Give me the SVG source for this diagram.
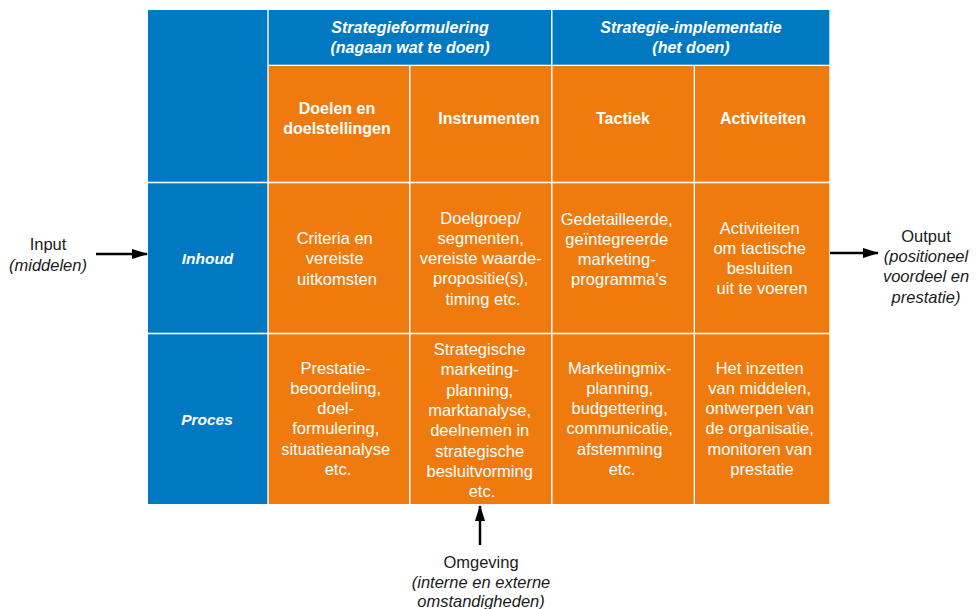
<svg xmlns="http://www.w3.org/2000/svg" width="978" height="609" viewBox="0 0 978 609">
  <style>
    .blue { fill: #0179c2; }
    .orange { fill: #ef7b0f; }
    .hdr { font-family: "Liberation Sans", Arial, sans-serif; font-size: 16px; font-weight: bold; font-style: italic; fill: #ffffff; text-anchor: middle; }
    .rowlbl { font-family: "Liberation Sans", Arial, sans-serif; font-size: 15.5px; font-weight: bold; font-style: italic; fill: #ffffff; text-anchor: middle; }
    .sub { font-family: "Liberation Sans", Arial, sans-serif; font-size: 16px; font-weight: bold; fill: #ffffff; text-anchor: middle; }
    .body { font-family: "Liberation Sans", Arial, sans-serif; font-size: 16.5px; fill: #ffffff; text-anchor: middle; }
    .ext { font-family: "Liberation Sans", Arial, sans-serif; font-size: 16.5px; fill: #1a1a1a; text-anchor: middle; }
    .it { font-style: italic; }
    .conn { stroke: #000000; stroke-width: 2.5; fill: none; }
  </style>
  <defs>
    <marker id="arrowhead" markerUnits="userSpaceOnUse" markerWidth="16" markerHeight="10" refX="15" refY="5" orient="auto">
      <path d="M0,0 L16,5 L0,10 z" fill="#000000"/>
    </marker>
  </defs>

  <rect width="978" height="609" fill="#ffffff"/>

  <!-- row headers (left column) -->
  <g id="corner"><rect class="blue" x="148" y="10" width="119.3" height="171.7"/></g>
  <g id="row-inhoud">
    <rect class="blue" x="148" y="183.3" width="119.3" height="149.4"/>
    <text class="rowlbl" x="207.5" y="263.5">Inhoud</text>
  </g>
  <g id="row-proces">
    <rect class="blue" x="148" y="334.3" width="119.3" height="169.7"/>
    <text class="rowlbl" x="207" y="425">Proces</text>
  </g>

  <!-- column group headers -->
  <g id="hdr-formulering">
    <rect class="blue" x="268.7" y="10" width="282.3" height="54.7"/>
    <text class="hdr" x="410" y="33">Strategieformulering</text>
    <text class="hdr" x="410" y="53">(nagaan wat te doen)</text>
  </g>
  <g id="hdr-implementatie">
    <rect class="blue" x="552.5" y="10" width="276.8" height="54.7"/>
    <text class="hdr" x="691" y="33">Strategie-implementatie</text>
    <text class="hdr" x="691" y="53">(het doen)</text>
  </g>

  <!-- column sub headers -->
  <g id="col-doelen">
    <rect class="orange" x="268.7" y="66" width="140.3" height="115.7"/>
    <text class="sub" x="337" y="114">Doelen en</text>
    <text class="sub" x="337" y="134">doelstellingen</text>
  </g>
  <g id="col-instrumenten">
    <rect class="orange" x="410.5" y="66" width="140.5" height="115.7"/>
    <text class="sub" x="489" y="124">Instrumenten</text>
  </g>
  <g id="col-tactiek">
    <rect class="orange" x="552.5" y="66" width="141.2" height="115.7"/>
    <text class="sub" x="623" y="124">Tactiek</text>
  </g>
  <g id="col-activiteiten">
    <rect class="orange" x="695" y="66" width="134.3" height="115.7"/>
    <text class="sub" x="763" y="124">Activiteiten</text>
  </g>

  <!-- Inhoud row cells -->
  <g id="inhoud-doelen">
    <rect class="orange" x="268.7" y="183.3" width="140.3" height="149.4"/>
    <text class="body" x="337">
      <tspan x="337" y="244">Criteria en</tspan>
      <tspan x="337" y="264.3">vereiste</tspan>
      <tspan x="337" y="284.6">uitkomsten</tspan>
    </text>
  </g>
  <g id="inhoud-instrumenten">
    <rect class="orange" x="410.5" y="183.3" width="140.5" height="149.4"/>
    <text class="body" x="483">
      <tspan x="483" y="223.5">Doelgroep/</tspan>
      <tspan x="483" y="243.8">segmenten,</tspan>
      <tspan x="483" y="264.1">vereiste waarde-</tspan>
      <tspan x="483" y="284.4">propositie(s),</tspan>
      <tspan x="483" y="304.7">timing etc.</tspan>
    </text>
  </g>
  <g id="inhoud-tactiek">
    <rect class="orange" x="552.5" y="183.3" width="141.2" height="149.4"/>
    <text class="body" x="619">
      <tspan x="619" y="224.5">Gedetailleerde,</tspan>
      <tspan x="619" y="244.8">geïntegreerde</tspan>
      <tspan x="619" y="265.1">marketing-</tspan>
      <tspan x="619" y="285.4">programma's</tspan>
    </text>
  </g>
  <g id="inhoud-activiteiten">
    <rect class="orange" x="695" y="183.3" width="134.3" height="149.4"/>
    <text class="body" x="762">
      <tspan x="762" y="233.5">Activiteiten</tspan>
      <tspan x="762" y="253.8">om tactische</tspan>
      <tspan x="762" y="274.1">besluiten</tspan>
      <tspan x="762" y="294.4">uit te voeren</tspan>
    </text>
  </g>

  <!-- Proces row cells -->
  <g id="proces-doelen">
    <rect class="orange" x="268.7" y="334.3" width="140.3" height="169.7"/>
    <text class="body" x="338">
      <tspan x="338" y="373.5">Prestatie-</tspan>
      <tspan x="338" y="393.8">beoordeling,</tspan>
      <tspan x="338" y="414.1">doel-</tspan>
      <tspan x="338" y="434.4">formulering,</tspan>
      <tspan x="338" y="454.7">situatieanalyse</tspan>
      <tspan x="338" y="475">etc.</tspan>
    </text>
  </g>
  <g id="proces-instrumenten">
    <rect class="orange" x="410.5" y="334.3" width="140.5" height="169.7"/>
    <text class="body" x="482">
      <tspan x="482" y="355">Strategische</tspan>
      <tspan x="482" y="375.3">marketing-</tspan>
      <tspan x="482" y="395.6">planning,</tspan>
      <tspan x="482" y="415.9">marktanalyse,</tspan>
      <tspan x="482" y="436.2">deelnemen in</tspan>
      <tspan x="482" y="456.5">strategische</tspan>
      <tspan x="482" y="476.8">besluitvorming</tspan>
      <tspan x="482" y="497.1">etc.</tspan>
    </text>
  </g>
  <g id="proces-tactiek">
    <rect class="orange" x="552.5" y="334.3" width="141.2" height="169.7"/>
    <text class="body" x="622">
      <tspan x="622" y="373.5">Marketingmix-</tspan>
      <tspan x="622" y="393.8">planning,</tspan>
      <tspan x="622" y="414.1">budgettering,</tspan>
      <tspan x="622" y="434.4">communicatie,</tspan>
      <tspan x="622" y="454.7">afstemming</tspan>
      <tspan x="622" y="475">etc.</tspan>
    </text>
  </g>
  <g id="proces-activiteiten">
    <rect class="orange" x="695" y="334.3" width="134.3" height="169.7"/>
    <text class="body" x="762">
      <tspan x="762" y="373.5">Het inzetten</tspan>
      <tspan x="762" y="393.8">van middelen,</tspan>
      <tspan x="762" y="414.1">ontwerpen van</tspan>
      <tspan x="762" y="434.4">de organisatie,</tspan>
      <tspan x="762" y="454.7">monitoren van</tspan>
      <tspan x="762" y="475">prestatie</tspan>
    </text>
  </g>

  <!-- external labels -->
  <g id="input">
    <text class="ext" x="48" y="250">Input</text>
    <text class="ext it" x="48" y="270.5">(middelen)</text>
  </g>
  <g id="output">
    <text class="ext" x="926" y="241.5">Output</text>
    <text class="ext it" x="926" y="262">(positioneel</text>
    <text class="ext it" x="926" y="282.3">voordeel en</text>
    <text class="ext it" x="926" y="302.6">prestatie)</text>
  </g>
  <g id="omgeving">
    <text class="ext" x="481" y="568">Omgeving</text>
    <text class="ext it" x="481" y="588">(interne en externe</text>
    <text class="ext it" x="481" y="606.5">omstandigheden)</text>
  </g>

  <!-- connectors -->
  <g id="connectors">
    <line class="conn" x1="96" y1="254" x2="147" y2="254" marker-end="url(#arrowhead)"/>
    <line class="conn" x1="830" y1="253" x2="878" y2="253" marker-end="url(#arrowhead)"/>
    <line class="conn" x1="480" y1="545" x2="480" y2="506" marker-end="url(#arrowhead)"/>
  </g>
</svg>
